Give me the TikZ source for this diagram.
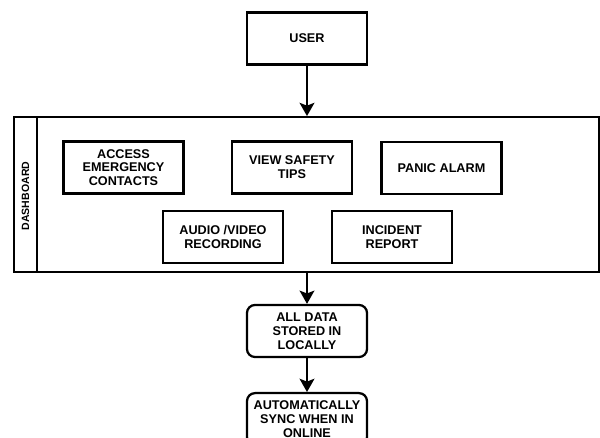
\documentclass[tikz,border=0pt]{standalone}
\usepackage{fontspec}
\setmainfont{Liberation Sans}
\usepackage{tikz}
\usetikzlibrary{shapes,arrows.meta}

\tikzset{
  box/.style={draw,line width=1.6pt,rectangle,minimum width=3cm,minimum height=1.3cm,
    align=center,font=\fontsize{9}{9.8}\selectfont\bfseries,inner sep=1pt},
  stage/.style={box,rounded corners=0.2cm},
  link/.style={line width=1.6pt,-{Stealth[length=0.33cm,width=0.37cm,inset=0.07cm]}}
}

\begin{document}
\begin{tikzpicture}[x=0.025cm,y=-0.025cm]
        \clip (0,0) rectangle (600,438);
        \node [box] (user) at (307,38.5) {USER};
        % dashboard frame
        \node [draw,line width=1.3pt,minimum width=14.625cm,minimum height=3.875cm] (dash) at (306.5,194.5) {};
        \draw[line width=1.3pt] (37,117) -- (37,272);
        \node [rotate=90,font=\fontsize{7.5}{8}\selectfont\bfseries] (dashlbl) at (25.5,196) {DASHBOARD};
        \node [box] (access) at (123.5,167.5) {ACCESS\\EMERGENCY\\CONTACTS};
        \node [box] (tips) at (292,167.5) {VIEW SAFETY\\TIPS};
        \node [box] (alarm) at (441.5,168) {PANIC ALARM};
        \node [box] (audio) at (223,237) {AUDIO /VIDEO\\RECORDING};
        \node [box] (report) at (392,237) {INCIDENT\\REPORT};
        \node [stage] (store) at (307,331) {ALL DATA\\STORED IN\\LOCALLY};
        \node [stage,anchor=north] (sync) at (307,392) {AUTOMATICALLY\\SYNC WHEN IN\\ONLINE};
        \draw[link] (user) -- (user |- dash.north);
        \draw[link] (store |- dash.south) -- (store);
        \draw[link] (store) -- (sync);
        \end{tikzpicture}
\end{document}
